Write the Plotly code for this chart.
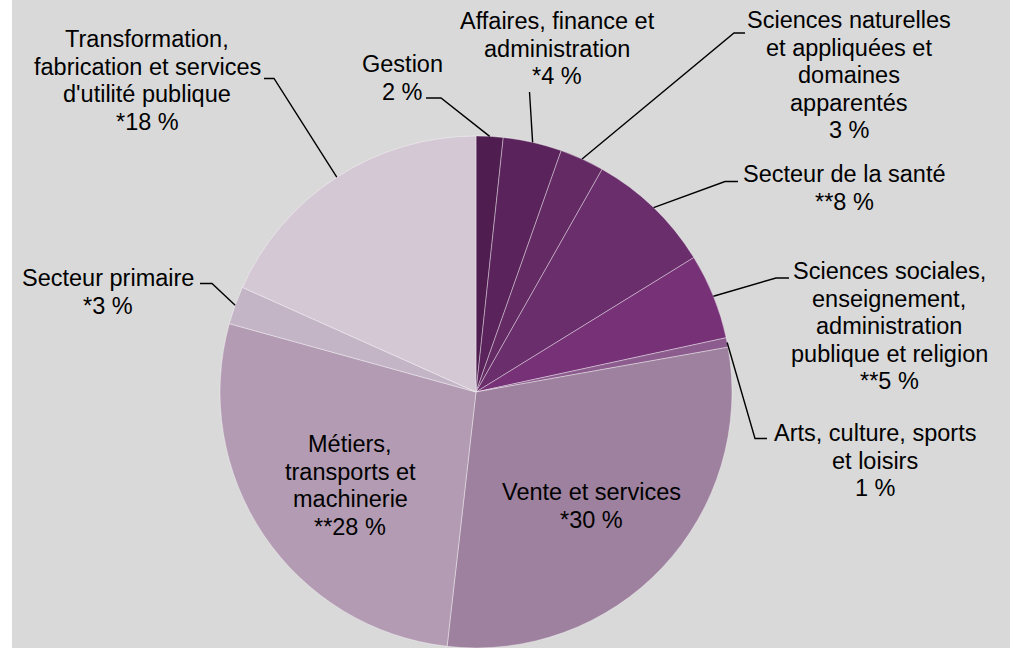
import numpy as np
import plotly.graph_objects as go

W, H = 1010, 648

# ---------------- data ----------------
categories = [
    "Gestion",
    "Affaires, finance et administration",
    "Sciences naturelles et appliquées et domaines apparentés",
    "Secteur de la santé",
    "Sciences sociales, enseignement, administration publique et religion",
    "Arts, culture, sports et loisirs",
    "Vente et services",
    "Métiers, transports et machinerie",
    "Secteur primaire",
    "Transformation, fabrication et services d'utilité publique",
]
values = [1.7, 3.7, 2.8, 8.0, 5.4, 0.6, 29.6, 27.5, 2.4, 18.3]
pct_labels = ["2 %", "*4 %", "3 %", "**8 %", "**5 %", "1 %", "*30 %", "**28 %", "*3 %", "*18 %"]
label_lines = [
    ["Gestion"],
    ["Affaires, finance et", "administration"],
    ["Sciences naturelles", "et appliquées et", "domaines", "apparentés"],
    ["Secteur de la santé"],
    ["Sciences sociales,", "enseignement,", "administration", "publique et religion"],
    ["Arts, culture, sports", "et loisirs"],
    ["Vente et services"],
    ["Métiers,", "transports et", "machinerie"],
    ["Secteur primaire"],
    ["Transformation,", "fabrication et services", "d'utilité publique"],
]
colors = ["#501d51", "#5a235b", "#632a64", "#6b2e6c", "#763177", "#8d5c8e",
          "#9e819e", "#b39cb3", "#c4b5c6", "#d4c8d5"]

# ---------------- layout constants (pixels) ----------------
CX, CY, R = 476, 392, 256
LINE_H = 27.6
FONT = dict(family="Liberation Sans, Arial, sans-serif", size=23.5, color="black")

# label block: (center x, first line center y)
label_pos = [
    (402, 64),
    (557, 21),
    (849, 20),
    (844, 174),
    (889, 271),
    (875, 433),
    (591, 492),
    (350, 444),
    (108, 278),
    (147, 39),
]
# leader line points before reaching the slice edge (None = no leader)
leader_pts = [
    [(426, 98), (441, 98)],
    [(529.5, 92)],
    [(745, 33), (734, 33)],
    [(738, 181.5), (725, 181.5)],
    [(789, 278), (776, 278)],
    [(767, 438.5), (755, 438.5)],
    None,
    None,
    [(200, 283.5), (212, 283.5)],
    [(264, 78.5), (274, 78.5)],
]


def px(x):
    return x / W


def py(y):
    return 1 - y / H


fig = go.Figure()
fig.add_trace(go.Pie(
    labels=categories,
    values=values,
    sort=False,
    direction="clockwise",
    rotation=0,
    textinfo="none",
    hoverinfo="label+percent",
    marker=dict(colors=colors, line=dict(color="rgba(255,255,255,0.55)", width=0.7)),
    domain=dict(x=[px(CX - R), px(CX + R)], y=[py(CY + R), py(CY - R)]),
    showlegend=False,
))

annotations = []
for lines, pct, (lx, ly) in zip(label_lines, pct_labels, label_pos):
    all_lines = lines + [pct]
    for i, t in enumerate(all_lines):
        annotations.append(dict(
            x=px(lx), y=py(ly + i * LINE_H), xref="paper", yref="paper",
            text=t, showarrow=False, xanchor="center", yanchor="middle",
            font=FONT,
        ))

# leader lines ending at the mid-angle of each slice on the pie edge
vals = np.array(values, dtype=float)
cum = np.cumsum(vals)
mid = (cum - vals / 2) / vals.sum() * 2 * np.pi
edge_x = CX + R * np.sin(mid)
edge_y = CY - R * np.cos(mid)

shapes = [dict(type="rect", xref="paper", yref="paper", x0=0, x1=px(12), y0=0, y1=1,
               fillcolor="white", line=dict(width=0), layer="below")]
for pts, ex, ey in zip(leader_pts, edge_x, edge_y):
    if pts is None:
        continue
    allp = list(pts) + [(ex, ey)]
    path = "M " + " L ".join(f"{px(x):.5f} {py(y):.5f}" for x, y in allp)
    shapes.append(dict(type="path", xref="paper", yref="paper", path=path,
                       line=dict(color="black", width=1.4)))

fig.update_layout(
    width=W, height=H,
    margin=dict(l=0, r=0, t=0, b=0),
    paper_bgcolor="#d9d9d9",
    plot_bgcolor="#d9d9d9",
    annotations=annotations,
    shapes=shapes,
)
fig.write_html(
    "out.html",
    config={"displayModeBar": False},
    post_script="document.body.style.margin='0';document.body.style.padding='0';"
                "document.documentElement.style.overflow='hidden';",
)
